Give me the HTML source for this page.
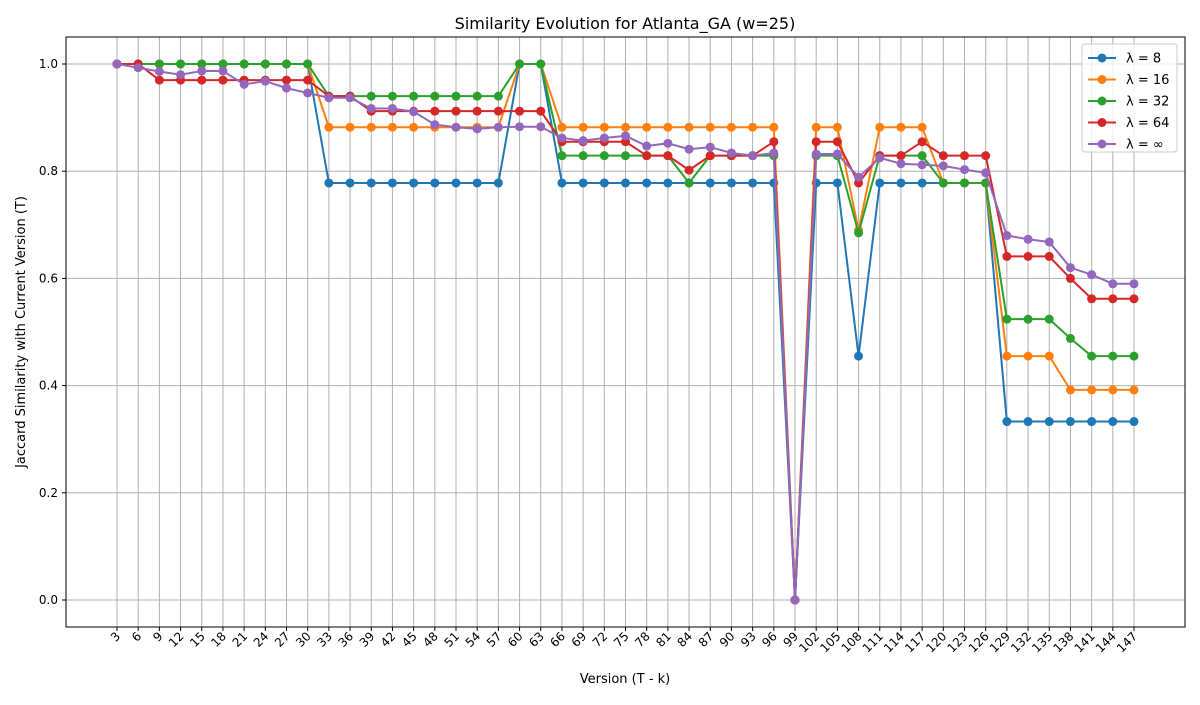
<!DOCTYPE html>
<html><head><meta charset="utf-8"><style>
body{margin:0;background:#fff;font-family:"Liberation Sans","DejaVu Sans",sans-serif}
svg text{font-family:"DejaVu Sans","Liberation Sans",sans-serif}
</style></head><body>
<svg id="chart" width="1200" height="700">
<rect width="1200" height="700" fill="#fff"/>
<text x="625" y="29" font-size="16" text-anchor="middle">Similarity Evolution for Atlanta_GA (w=25)</text>
<g id="grid"></g><g id="series"></g><g id="axes"></g>
<rect x="66" y="37" width="1119" height="590" fill="none" stroke="#000" stroke-width="1"/>
<text x="625" y="683" font-size="13" text-anchor="middle">Version (T - k)</text>
<text transform="translate(25,332) rotate(-90)" font-size="13" text-anchor="middle">Jaccard Similarity with Current Version (T)</text>
<g id="legend"></g>
</svg>
<script>
const categories=[3,6,9,12,15,18,21,24,27,30,33,36,39,42,45,48,51,54,57,60,63,66,69,72,75,78,81,84,87,90,93,96,99,102,105,108,111,114,117,120,123,126,129,132,135,138,141,144,147];
const seriesNames=["λ = 8","λ = 16","λ = 32","λ = 64","λ = ∞"];
const seriesColors=["#1f77b4","#ff7f0e","#2ca02c","#d62728","#9467bd"];
const s8=[1,1,1,1,1,1,1,1,1,1,0.778,0.778,0.778,0.778,0.778,0.778,0.778,0.778,0.778,1,1,0.778,0.778,0.778,0.778,0.778,0.778,0.778,0.778,0.778,0.778,0.778,0,0.778,0.778,0.455,0.778,0.778,0.778,0.778,0.778,0.778,0.333,0.333,0.333,0.333,0.333,0.333,0.333];
const s16=[1,1,1,1,1,1,1,1,1,1,0.882,0.882,0.882,0.882,0.882,0.882,0.882,0.882,0.882,1,1,0.882,0.882,0.882,0.882,0.882,0.882,0.882,0.882,0.882,0.882,0.882,0,0.882,0.882,0.69,0.882,0.882,0.882,0.778,0.778,0.778,0.455,0.455,0.455,0.392,0.392,0.392,0.392];
const s32=[1,1,1,1,1,1,1,1,1,1,0.94,0.94,0.94,0.94,0.94,0.94,0.94,0.94,0.94,1,1,0.829,0.829,0.829,0.829,0.829,0.829,0.778,0.829,0.829,0.829,0.829,0,0.829,0.829,0.685,0.829,0.829,0.829,0.778,0.778,0.778,0.524,0.524,0.524,0.488,0.455,0.455,0.455];
const s64=[1,1,0.97,0.97,0.97,0.97,0.97,0.97,0.97,0.97,0.94,0.94,0.912,0.912,0.912,0.912,0.912,0.912,0.912,0.912,0.912,0.855,0.855,0.855,0.855,0.829,0.829,0.802,0.829,0.829,0.829,0.855,0,0.855,0.855,0.778,0.829,0.829,0.855,0.829,0.829,0.829,0.641,0.641,0.641,0.6,0.562,0.562,0.562];
const sInf=[1,0.993,0.986,0.98,0.987,0.987,0.962,0.968,0.955,0.946,0.937,0.937,0.917,0.917,0.911,0.887,0.882,0.879,0.882,0.883,0.883,0.862,0.857,0.862,0.866,0.847,0.852,0.841,0.845,0.834,0.829,0.834,0,0.832,0.832,0.789,0.825,0.814,0.812,0.81,0.803,0.797,0.68,0.673,0.668,0.62,0.607,0.59,0.59];
const yTicks=[0,0.2,0.4,0.6,0.8,1.0];
const allSeries=[s8,s16,s32,s64,sInf];
const NS="http://www.w3.org/2000/svg";
function xPos(i){return 117+i*(1134-117)/(categories.length-1);}
function yPos(v){return 600-v*536;}
function mk(tag,attrs,parent){const e=document.createElementNS(NS,tag);for(const k in attrs)e.setAttribute(k,attrs[k]);parent.appendChild(e);return e;}
const grid=document.getElementById('grid'),axes=document.getElementById('axes'),ser=document.getElementById('series'),leg=document.getElementById('legend');
categories.forEach((c,i)=>{const x=xPos(i);
 const g=mk('line',{x1:x,x2:x,y1:37,y2:627,stroke:'#b0b0b0','stroke-width':1},grid);
 
 
 mk('line',{x1:x,x2:x,y1:627,y2:631,stroke:'#000'},axes);
 const t=mk('text',{transform:`translate(${x+4},${637}) rotate(-45)`,'font-size':12,'text-anchor':'end'},axes);
 t.textContent=c;
 
 
});
yTicks.forEach(v=>{const y=yPos(v);
 const g=mk('line',{x1:66,x2:1185,y1:y,y2:y,stroke:'#b0b0b0','stroke-width':1},grid);
 
 
 mk('line',{x1:62,x2:66,y1:y,y2:y,stroke:'#000'},axes);
 const t=mk('text',{x:58,y:y+4,'font-size':12,'text-anchor':'end'},axes);
 t.textContent=v.toFixed(1);
 
 
});
allSeries.forEach((s,k)=>{const g=mk('g',{},ser);
 
 
 mk('polyline',{points:s.map((v,i)=>xPos(i)+','+yPos(v)).join(' '),fill:'none',stroke:seriesColors[k],'stroke-width':2},g);
 s.forEach((v,i)=>{const c=mk('circle',{cx:xPos(i),cy:yPos(v),r:4.5,fill:seriesColors[k]},g);
  
  });
});
mk('rect',{x:1082,y:44,width:95,height:108,rx:3,fill:'#fff','fill-opacity':0.8,stroke:'#ccc'},leg);
seriesNames.forEach((n,k)=>{const y=58+k*21.5;const g=mk('g',{},leg);
 
 
 mk('line',{x1:1088,x2:1116,y1:y,y2:y,stroke:seriesColors[k],'stroke-width':2},g);
 mk('circle',{cx:1102,cy:y,r:4.5,fill:seriesColors[k]},g);
 const t=mk('text',{x:1126,y:y+4.5,'font-size':13},g);t.textContent=n;});
</script>
</body></html>
